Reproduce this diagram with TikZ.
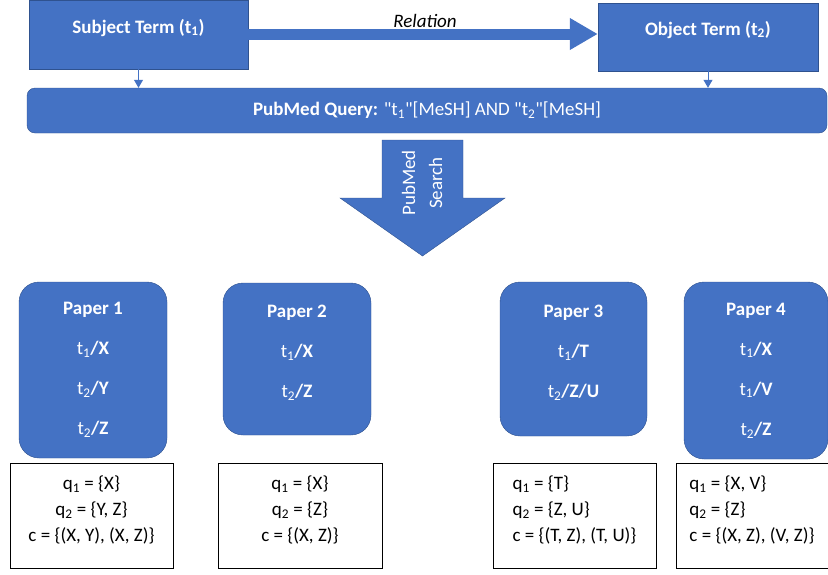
\documentclass[tikz,border=0pt]{standalone}
\usepackage{fontspec}
\setmainfont{Carlito}
\usepackage{tikz}
\usepackage{xcolor}
\usetikzlibrary{arrows.meta}
\definecolor{pubblue}{HTML}{4472C4}
\definecolor{pubedge}{HTML}{2F528F}

\begin{document}
\begin{tikzpicture}[x=1pt, y=-1pt,
    term/.style={draw=pubedge, fill=pubblue, text=white, inner sep=0pt, font=\fontsize{19}{23}\selectfont\bfseries},
    paper/.style={draw=pubedge, fill=pubblue, text=white, rounded corners=20pt, minimum width=148pt, align=center, font=\fontsize{19}{40}\selectfont},
    pairs/.style={draw=black, fill=white, line width=1pt, minimum height=105pt, text depth=13pt, font=\fontsize{19}{26}\selectfont},
    link/.style={draw=pubblue, line width=1pt, -{Triangle[length=8pt,width=9pt]}}]
    \useasboundingbox (0,0) rectangle (828,574);

    \node[term, minimum width=219pt, minimum height=69pt, text height=33pt, text depth=36pt] (subj) at (138.5,34.5) {Subject Term (t\textsubscript{1})};
    \node[term, minimum width=220pt, minimum height=68pt, text height=32pt, text depth=36pt] (obj) at (708,37) {Object Term (t\textsubscript{2})};
    \node[font=\fontsize{19}{23}\selectfont\itshape] (rel) at (425,21) {Relation};
    \node[draw=pubedge, fill=pubblue, text=white, rounded corners=8pt, minimum width=800pt, minimum height=45pt, font=\fontsize{19}{23}\selectfont] (query) at (427,110.5) {\textbf{PubMed Query:} \textquotedbl t\textsubscript{1}\textquotedbl[MeSH] AND \textquotedbl t\textsubscript{2}\textquotedbl[MeSH]};

    \draw[pubblue, line width=11pt, -{Triangle[length=28pt 0 0, width=30pt 0 0]}] (subj.east |- 0,34) -- (obj.west |- 0,34);
    \draw[link] (subj.south) -- (query.north -| subj.south);
    \draw[link] (obj.south) -- (query.north -| obj.south);

    % search arrow
    \filldraw[fill=pubblue, draw=pubedge] (382,140) -- (463,140) -- (463,198) -- (505,198) -- (422.5,256) -- (340,198) -- (382,198) -- cycle;
    \node[text=white, rotate=90, align=center, font=\fontsize{19}{27}\selectfont] (search) at (422,183) {PubMed\\Search};

    \node[paper, minimum height=176pt] (p1) at (93,370) {\textbf{Paper 1}\\t\textsubscript{1}\textbf{/X}\\t\textsubscript{2}\textbf{/Y}\\t\textsubscript{2}\textbf{/Z}};
    \node[paper, minimum height=152pt, text depth=15pt] (p2) at (297,359) {\textbf{Paper 2}\\t\textsubscript{1}\textbf{/X}\\t\textsubscript{2}\textbf{/Z}};
    \node[paper, minimum width=147pt, minimum height=154pt, text depth=15pt] (p3) at (573.5,359) {\textbf{Paper 3}\\t\textsubscript{1}\textbf{/T}\\t\textsubscript{2}\textbf{/Z/U}};
    \node[paper, minimum width=144pt, minimum height=177pt] (p4) at (756,370.5) {\textbf{Paper 4}\\t\textsubscript{1}\textbf{/X}\\t\textsubscript{1}\textbf{/V}\\t\textsubscript{2}\textbf{/Z}};

    \node[pairs, minimum width=163pt, align=center] (c1) at (91.5,515.5) {q\textsubscript{1} = \{X\}\\q\textsubscript{2} = \{Y, Z\}\\c = \{(X, Y), (X, Z)\}};
    \node[pairs, minimum width=164pt, align=center] (c2) at (300,515.5) {q\textsubscript{1} = \{X\}\\q\textsubscript{2} = \{Z\}\\c = \{(X, Z)\}};
    \node[pairs, minimum width=163pt, align=left] (c3) at (574.5,515.5) {q\textsubscript{1} = \{T\}\\q\textsubscript{2} = \{Z, U\}\\c = \{(T, Z), (T, U)\}};
    \node[pairs, minimum width=152pt, align=left] (c4) at (752,515.5) {q\textsubscript{1} = \{X, V\}\\q\textsubscript{2} = \{Z\}\\c = \{(X, Z), (V, Z)\}};
\end{tikzpicture}
\end{document}
